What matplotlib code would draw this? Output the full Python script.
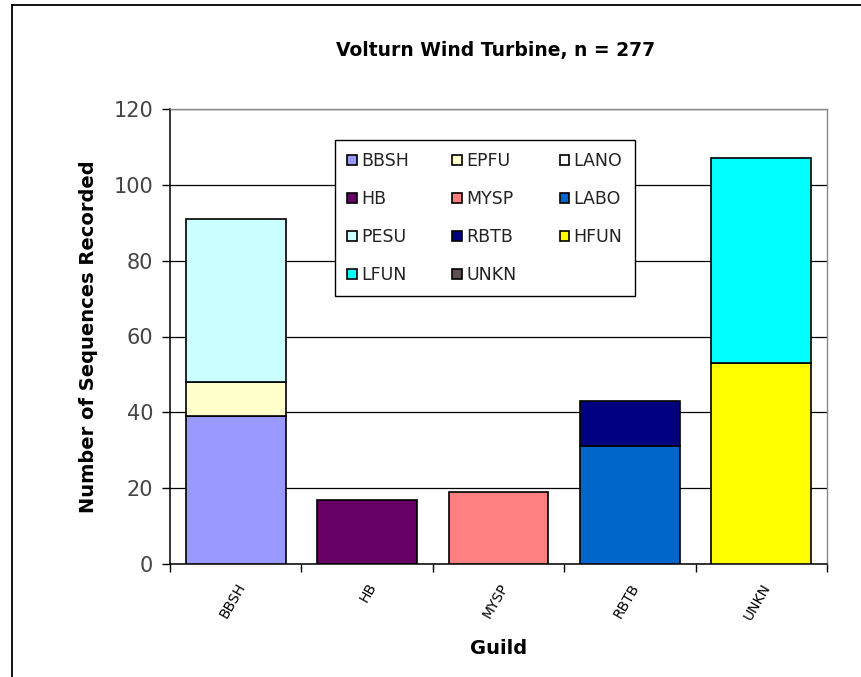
import numpy as np
import matplotlib.pyplot as plt
from matplotlib.patches import Patch
from matplotlib.lines import Line2D

plt.rcParams['font.family'] = ['DejaVu Sans']

guilds = ["BBSH", "HB", "MYSP", "RBTB", "UNKN"]

# counts per species, one entry per guild
bbsh = [39, 0, 0, 0, 0]
epfu = [9, 0, 0, 0, 0]
lano = [0, 0, 0, 0, 0]
hb = [0, 17, 0, 0, 0]
mysp = [0, 0, 19, 0, 0]
labo = [0, 0, 0, 31, 0]
pesu = [43, 0, 0, 0, 0]
rbtb = [0, 0, 0, 12, 0]
hfun = [0, 0, 0, 0, 53]
lfun = [0, 0, 0, 0, 54]
unkn = [0, 0, 0, 0, 0]

species = ["BBSH", "EPFU", "LANO", "HB", "MYSP", "LABO", "PESU", "RBTB", "HFUN", "LFUN", "UNKN"]
counts = [bbsh, epfu, lano, hb, mysp, labo, pesu, rbtb, hfun, lfun, unkn]
colors = ["#9999FF", "#FFFFCC", "#FFFFFF", "#660066", "#FF8080", "#0066CC",
          "#CCFFFF", "#000080", "#FFFF00", "#00FFFF", "#5f4f4f"]

W, H = 861, 677
fig = plt.figure(figsize=(W/100, H/100), dpi=100)
ax = fig.add_axes([170/W, 1-564/H, 657/W, 455/H])

x = np.arange(len(guilds))
bottom = np.zeros(len(guilds))
for name, vals, c in zip(species, counts, colors):
    vals = np.array(vals, dtype=float)
    b = ax.bar(x, vals, width=0.76, bottom=bottom, color=c,
               edgecolor="black", linewidth=1.2, zorder=3)
    # hide zero-height bars so they don't leave a line
    for rect, v in zip(b, vals):
        if v == 0:
            rect.set_visible(False)
    bottom += vals

ax.set_xlim(-0.5, 4.5)
ax.set_ylim(0, 120)
ax.set_yticks(range(0, 121, 20))
ax.yaxis.grid(True, color="black", linewidth=0.9, zorder=0)
ax.set_axisbelow(True)
for s in ["top", "right"]:
    ax.spines[s].set_color("#888888")
    ax.spines[s].set_linewidth(1.0)
ax.spines["left"].set_linewidth(1.1)
ax.spines["bottom"].set_linewidth(1.1)

ax.set_xticks(x)
ax.set_xticklabels(guilds, rotation=60, ha="right", rotation_mode="anchor", fontsize=10)
ax.tick_params(axis="x", which="major", length=0, pad=12)
ax.set_xticks(np.arange(-0.5, 5, 1), minor=True)
ax.tick_params(axis="x", which="minor", length=6, width=1, direction="out")
ax.tick_params(axis="y", length=6, width=1, labelsize=15, labelcolor="#444444", pad=6)

ax.set_ylabel("Number of Sequences Recorded", fontsize=14, fontweight="bold", labelpad=11)
ax.set_xlabel("Guild", fontsize=14, fontweight="bold", labelpad=12)
ax.set_title("Volturn Wind Turbine, n = 277", fontsize=13.5, fontweight="bold", pad=38, x=0.495)

# legend laid out row by row: matplotlib fills columns first, so reorder
order = [0, 3, 6, 9, 1, 4, 7, 10, 2, 5, 8]
proxies = [Patch(facecolor=colors[i], edgecolor="black", linewidth=1.2) for i in order]
leg = ax.legend(proxies, [species[i] for i in order], ncol=3,
                loc="upper left", bbox_to_anchor=(0.251, 0.932), borderaxespad=0,
                frameon=True, framealpha=1, fancybox=False, edgecolor="black",
                fontsize=12.5, handlelength=0.55, handleheight=0.55, handletextpad=0.25,
                columnspacing=2.5, labelspacing=1.15, borderpad=0.7)
leg.get_frame().set_linewidth(1.0)
leg.set_zorder(5)
for t in leg.get_texts():
    t.set_color("#222222")

# outer chart frame (only top and left edges fall inside the image)
fig.add_artist(Line2D([12/W, 1], [1-5/H, 1-5/H], color="black", linewidth=1.3))
fig.add_artist(Line2D([12/W, 12/W], [0, 1-5/H], color="black", linewidth=1.3))

fig.savefig("out.png", dpi=100)
